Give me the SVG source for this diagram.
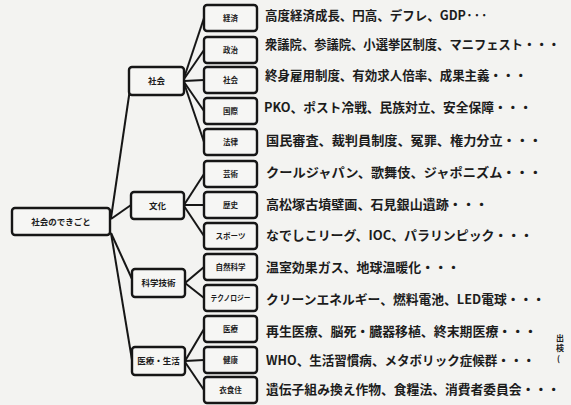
<svg xmlns="http://www.w3.org/2000/svg" width="571" height="405" viewBox="0 0 571 405">
<style>
.bg{fill:#f3f3f1}
.box{fill:#f6f6f4;stroke:#161616;stroke-width:2.4}
.ln{stroke:#161616;stroke-width:2;fill:none}
text{font-family:"Noto Sans CJK JP","Noto Sans",sans-serif;fill:#1c1c1c}
.root{font-size:8.5px;font-weight:700;text-anchor:middle}
.l1{font-size:8.5px;font-weight:700;text-anchor:middle}
.l2{font-size:7.5px;font-weight:700;text-anchor:middle}
.item{font-size:12.6px;font-weight:700}
.src{font-size:8px;font-weight:700}
</style>
<rect class="bg" x="0" y="0" width="571" height="405"/>
<g id="connectors">
<line class="ln" x1="111" y1="218" x2="130" y2="89"/>
<line class="ln" x1="111" y1="219" x2="131" y2="205"/>
<line class="ln" x1="111" y1="233" x2="132" y2="279"/>
<line class="ln" x1="111" y1="233" x2="132" y2="360"/>
<line class="ln" x1="184" y1="78" x2="204" y2="18"/>
<line class="ln" x1="184" y1="79" x2="204" y2="50"/>
<line class="ln" x1="184" y1="81" x2="204" y2="80"/>
<line class="ln" x1="184" y1="82" x2="204" y2="111"/>
<line class="ln" x1="184" y1="83" x2="204" y2="142"/>
<line class="ln" x1="184" y1="205" x2="204" y2="174"/>
<line class="ln" x1="184" y1="205" x2="204" y2="205"/>
<line class="ln" x1="184" y1="206" x2="204" y2="236"/>
<line class="ln" x1="185" y1="283" x2="204" y2="267"/>
<line class="ln" x1="185" y1="283" x2="204" y2="298"/>
<line class="ln" x1="185" y1="361" x2="204" y2="329"/>
<line class="ln" x1="185" y1="361" x2="204" y2="360"/>
<line class="ln" x1="185" y1="362" x2="204" y2="390"/>
</g>
<g id="root"><rect class="box" x="12" y="208" width="98" height="27" rx="3"/><text class="root" x="61" y="225">社会のできごと</text></g>
<g id="n-shakai"><rect class="box" x="129" y="67" width="55" height="28" rx="3"/><text class="l1" x="156.5" y="84">社会</text></g>
<g id="n-bunka"><rect class="box" x="131" y="192" width="53" height="27" rx="3"/><text class="l1" x="157.5" y="208.5">文化</text></g>
<g id="n-kagaku"><rect class="box" x="132" y="269" width="53" height="28" rx="3"/><text class="l1" x="158.5" y="286">科学技術</text></g>
<g id="n-iryo"><rect class="box" x="132" y="347" width="53" height="28" rx="3"/><text class="l1" x="158.5" y="364">医療・生活</text></g>
<g id="c-keizai"><rect class="box" x="204" y="5" width="53" height="26" rx="3"/><text class="l2" x="230.5" y="21">経済</text></g>
<g id="c-seiji"><rect class="box" x="204" y="37" width="53" height="26" rx="3"/><text class="l2" x="230.5" y="53">政治</text></g>
<g id="c-shakai"><rect class="box" x="204" y="67" width="53" height="26" rx="3"/><text class="l2" x="230.5" y="83">社会</text></g>
<g id="c-kokusai"><rect class="box" x="204" y="98" width="53" height="26" rx="3"/><text class="l2" x="230.5" y="114">国際</text></g>
<g id="c-horitsu"><rect class="box" x="204" y="129" width="53" height="26" rx="3"/><text class="l2" x="230.5" y="145">法律</text></g>
<g id="c-geijutsu"><rect class="box" x="204" y="161" width="53" height="26" rx="3"/><text class="l2" x="230.5" y="177">芸術</text></g>
<g id="c-rekishi"><rect class="box" x="204" y="192" width="53" height="26" rx="3"/><text class="l2" x="230.5" y="208">歴史</text></g>
<g id="c-sports"><rect class="box" x="204" y="223" width="53" height="26" rx="3"/><text class="l2" x="230.5" y="239">スポーツ</text></g>
<g id="c-shizen"><rect class="box" x="204" y="254" width="53" height="26" rx="3"/><text class="l2" x="230.5" y="270">自然科学</text></g>
<g id="c-tech"><rect class="box" x="204" y="285" width="53" height="26" rx="3"/><text class="l2" x="230.5" y="301" textLength="40" lengthAdjust="spacingAndGlyphs">テクノロジー</text></g>
<g id="c-iryo"><rect class="box" x="204" y="316" width="53" height="26" rx="3"/><text class="l2" x="230.5" y="332">医療</text></g>
<g id="c-kenko"><rect class="box" x="204" y="347" width="53" height="26" rx="3"/><text class="l2" x="230.5" y="363">健康</text></g>
<g id="c-ishokuju"><rect class="box" x="204" y="377" width="53" height="26" rx="3"/><text class="l2" x="230.5" y="393">衣食住</text></g>
<g id="items">
<text class="item" x="265" y="20" textLength="223" lengthAdjust="spacingAndGlyphs">高度経済成長、円高、デフレ、GDP···</text>
<text class="item" x="265" y="49" textLength="295" lengthAdjust="spacingAndGlyphs">衆議院、参議院、小選挙区制度、マニフェスト・・・</text>
<text class="item" x="265" y="80" textLength="262" lengthAdjust="spacingAndGlyphs">終身雇用制度、有効求人倍率、成果主義・・・</text>
<text class="item" x="264" y="112" textLength="268" lengthAdjust="spacingAndGlyphs">PKO、ポスト冷戦、民族対立、安全保障・・・</text>
<text class="item" x="266" y="145" textLength="276" lengthAdjust="spacingAndGlyphs">国民審査、裁判員制度、冤罪、権力分立・・・</text>
<text class="item" x="266" y="177" textLength="276" lengthAdjust="spacingAndGlyphs">クールジャパン、歌舞伎、ジャポニズム・・・</text>
<text class="item" x="266" y="209" textLength="222" lengthAdjust="spacingAndGlyphs">高松塚古墳壁画、石見銀山遺跡・・・</text>
<text class="item" x="266" y="240" textLength="267" lengthAdjust="spacingAndGlyphs">なでしこリーグ、IOC、パラリンピック・・・</text>
<text class="item" x="266" y="272" textLength="194" lengthAdjust="spacingAndGlyphs">温室効果ガス、地球温暖化・・・</text>
<text class="item" x="266" y="304" textLength="279" lengthAdjust="spacingAndGlyphs">クリーンエネルギー、燃料電池、LED電球・・・</text>
<text class="item" x="266" y="336" textLength="271" lengthAdjust="spacingAndGlyphs">再生医療、脳死・臓器移植、終末期医療・・・</text>
<text class="item" x="266" y="365" textLength="269" lengthAdjust="spacingAndGlyphs">WHO、生活習慣病、メタボリック症候群・・・</text>
<text class="item" x="266" y="394" textLength="294" lengthAdjust="spacingAndGlyphs">遺伝子組み換え作物、食糧法、消費者委員会・・・</text>
</g>
<g id="source">
<text class="src" x="556" y="341">出</text>
<text class="src" x="556" y="351">検</text>
<text class="src" x="557" y="362">(</text>
</g>
</svg>
